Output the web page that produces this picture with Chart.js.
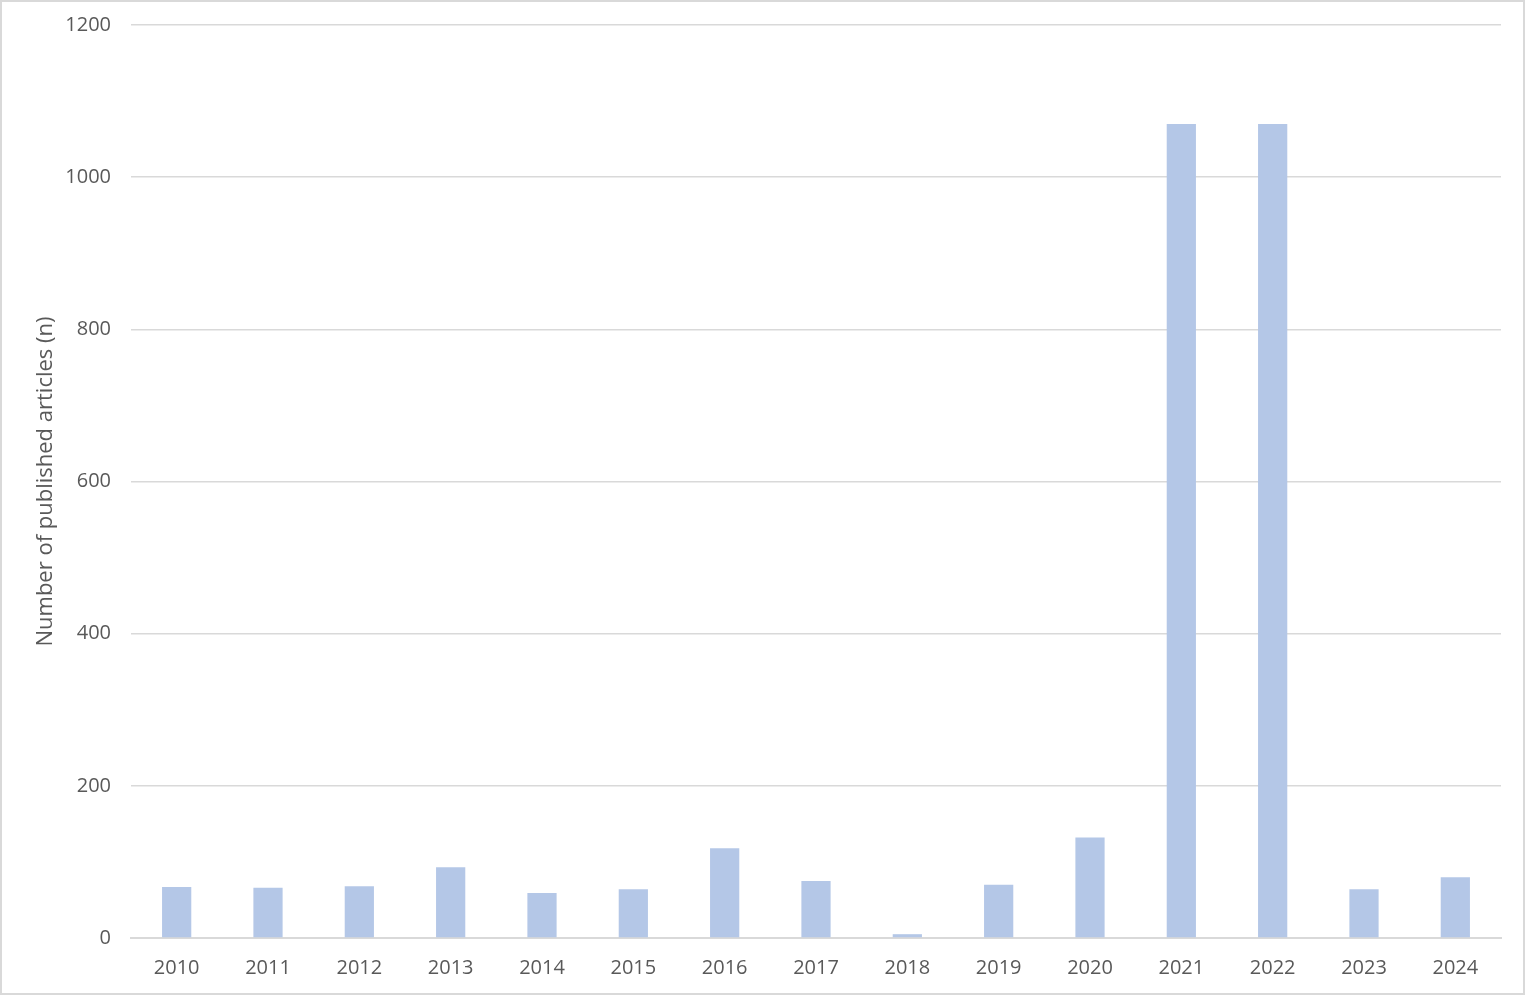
<!DOCTYPE html>
<html>
<head>
<meta charset="utf-8">
<script src="https://cdn.jsdelivr.net/npm/chart.js@4.4.1/dist/chart.umd.min.js"></script>
<style>
  html, body { margin: 0; padding: 0; background: #fff; }
  #wrap {
    position: relative;
    width: 1525px;
    height: 995px;
    box-sizing: border-box;
    border: 2px solid #d9d9d9;
  }
</style>
</head>
<body>
<div id="wrap"><canvas id="chart"></canvas></div>
<script>
const years = ["2010", "2011", "2012", "2013", "2014", "2015", "2016", "2017",
  "2018", "2019", "2020", "2021", "2022", "2023", "2024"];
const articleCounts = [67, 66, 68, 93, 59, 64, 118, 75, 5, 70, 132, 1070, 1070, 64, 80];
const yTicks = [0, 200, 400, 600, 800, 1000, 1200];

const textColor = "#595959";
const gridColor = "#d9d9d9";
const font = { family: "'Open Sans', sans-serif", size: 20 };

const chart = new Chart(document.getElementById("chart"), {
  type: "bar",
  data: {
    labels: years,
    datasets: [
      {
        label: "Articles",
        data: articleCounts,
        backgroundColor: "#b4c7e7",
        borderWidth: 0,
        categoryPercentage: 1,
        barPercentage: 0.32
      }
    ]
  },
  options: {
    responsive: true,
    maintainAspectRatio: false,
    animation: false,
    layout: {
      padding: { left: 31, right: 22, top: 23, bottom: 0 }
    },
    scales: {
      x: {
        grid: { display: false, drawTicks: false },
        border: { display: true, color: gridColor, width: 2 },
        ticks: { color: textColor, font: font, padding: 18, maxRotation: 0 },
        afterFit: (scale) => { scale.height = 55; }
      },
      y: {
        min: 0,
        max: 1200,
        afterBuildTicks: (scale) => {
          scale.ticks = yTicks.map((v) => ({ value: v }));
        },
        grid: { color: gridColor, lineWidth: 1.5, drawTicks: false },
        border: { display: false },
        ticks: {
          color: textColor,
          font: font,
          padding: 20,
          callback: (v) => String(v)
        },
        title: {
          display: true,
          text: "Number of published articles (n)",
          color: textColor,
          font: { family: font.family, size: 22 },
          padding: 0
        },
        afterFit: (scale) => {
          scale.width = 98;
          scale.paddingTop = 0;
          scale.paddingBottom = 0;
        }
      }
    },
    plugins: {
      legend: { display: false },
      tooltip: { enabled: false }
    }
  }
});
</script>
</body>
</html>
